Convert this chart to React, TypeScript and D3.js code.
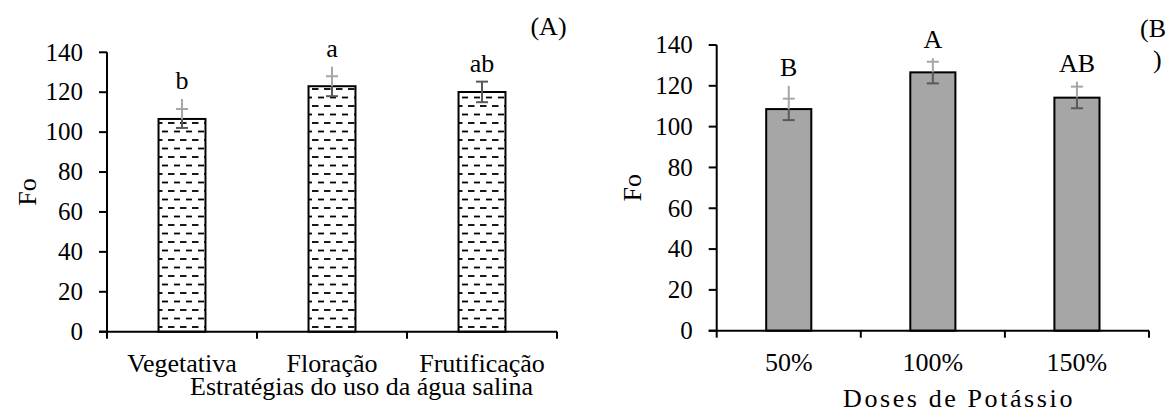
import React from "react";
import * as d3 from "d3";

const catsA = ["Vegetativa", "Floração", "Frutificação"];
const valsA = [106.6, 123.0, 120.1];
const capHiA = [111.6, 128.0, 125.3];
const capLoA = [102.1, 118.0, 115.0];
const lineTopA = [116.6, 132.8, 125.3];
const lettersA = ["b", "a", "ab"];

const catsB = ["50%", "100%", "150%"];
const valsB = [108.6, 126.6, 114.2];
const capHiB = [113.7, 131.8, 119.6];
const capLoB = [103.2, 121.2, 109.0];
const lineTopB = [120.0, 133.5, 122.0];
const lettersB = ["B", "A", "AB"];

const yTicks = [0, 20, 40, 60, 80, 100, 120, 140];

const FONT = "'Liberation Serif', 'Times New Roman', serif";
const FS = 26;
const FS_TICK = 25;
const LIGHT = "#a6a6a6";
const DARK = "#595959";

type PanelProps = {
  cats: string[];
  vals: number[];
  capHi: number[];
  capLo: number[];
  lineTop: number[];
  letters: string[];
  x0: number;
  x1: number;
  yTop: number;
  yBot: number;
  fill: string;
  yLabelX: number;
  xTitle: string;
  xTitleX: number;
  xTitleY: number;
  xTitleSpacing: number;
};

function Panel(p: PanelProps) {
  const x = d3.scaleBand<string>().domain(p.cats).range([p.x0, p.x1]).padding(0);
  const y = d3.scaleLinear().domain([0, 140]).range([p.yBot, p.yTop]);
  const bw = x.bandwidth() * 0.313;
  const capW = 12;
  const boundaries = [...p.cats.map((c) => x(c) as number), p.x1];
  return (
    <g fontFamily={FONT} fontSize={FS} fill="#000">
      {p.cats.map((c, i) => {
        const cx = (x(c) as number) + x.bandwidth() / 2;
        return (
          <rect
            key={"bar" + c}
            x={cx - bw / 2}
            y={y(p.vals[i])}
            width={bw}
            height={y(0) - y(p.vals[i])}
            fill={p.fill}
            stroke="#000"
            strokeWidth={2}
          />
        );
      })}
      {p.cats.map((c, i) => {
        const cx = (x(c) as number) + x.bandwidth() / 2;
        const ext = p.lineTop[i] > p.capHi[i] + 0.5;
        return (
          <g key={"err" + c} strokeWidth={2}>
            {ext && (
              <line x1={cx} x2={cx} y1={y(p.lineTop[i])} y2={y(p.vals[i])} stroke={LIGHT} />
            )}
            {!ext && (
              <line x1={cx} x2={cx} y1={y(p.capHi[i])} y2={y(p.vals[i])} stroke={DARK} />
            )}
            <line x1={cx} x2={cx} y1={y(p.vals[i])} y2={y(p.capLo[i])} stroke={DARK} />
            <line
              x1={cx - capW / 2}
              x2={cx + capW / 2}
              y1={y(p.capHi[i])}
              y2={y(p.capHi[i])}
              stroke={ext ? LIGHT : DARK}
            />
            <line
              x1={cx - capW / 2}
              x2={cx + capW / 2}
              y1={y(p.capLo[i])}
              y2={y(p.capLo[i])}
              stroke={DARK}
            />
          </g>
        );
      })}
      {p.cats.map((c, i) => {
        const cx = (x(c) as number) + x.bandwidth() / 2;
        return (
          <text key={"let" + c} x={cx} y={y(Math.max(p.lineTop[i], p.capHi[i])) - 10} textAnchor="middle">
            {p.letters[i]}
          </text>
        );
      })}
      <line x1={p.x0} x2={p.x0} y1={y(140)} y2={y(0)} stroke="#000" strokeWidth={2} />
      {yTicks.map((t) => (
        <g key={"yt" + t}>
          <line x1={p.x0 - 8} x2={p.x0} y1={y(t)} y2={y(t)} stroke="#000" strokeWidth={2} />
          <text x={p.x0 - 24} y={y(t)} dy="0.33em" textAnchor="end" fontSize={FS_TICK}>
            {t}
          </text>
        </g>
      ))}
      <line x1={p.x0 - 8} x2={p.x1} y1={y(0)} y2={y(0)} stroke="#000" strokeWidth={2} />
      {boundaries.map((b, i) => (
        <line key={"xt" + i} x1={b} x2={b} y1={y(0)} y2={y(0) + 7} stroke="#000" strokeWidth={2} />
      ))}
      {p.cats.map((c) => (
        <text key={"xl" + c} x={(x(c) as number) + x.bandwidth() / 2} y={y(0) + 40.5} textAnchor="middle">
          {c}
        </text>
      ))}
      <text x={p.xTitleX} y={p.xTitleY} textAnchor="middle" letterSpacing={p.xTitleSpacing}>
        {p.xTitle}
      </text>
      <text
        transform={`translate(${p.yLabelX},${(y(0) + y(140)) / 2}) rotate(-90)`}
        textAnchor="middle"
        dy="0.35em"
      >
        Fo
      </text>
    </g>
  );
}

export default function App() {
  return (
    <svg
      width={1169}
      height={412}
      style={{ position: "absolute", left: 0, top: 0, background: "#fff" }}
    >
      <defs>
        <pattern id="dashes" patternUnits="userSpaceOnUse" width={12} height={17}>
          <rect width={12} height={17} fill="#fff" />
          <line x1={0} x2={6.5} y1={4} y2={4} stroke="#000" strokeWidth={1.8} />
          <line x1={6} x2={12.5} y1={12.5} y2={12.5} stroke="#000" strokeWidth={1.8} />
        </pattern>
      </defs>
      <rect width={1169} height={412} fill="#fff" />
      <Panel
        cats={catsA}
        vals={valsA}
        capHi={capHiA}
        capLo={capLoA}
        lineTop={lineTopA}
        letters={lettersA}
        x0={107}
        x1={557}
        yTop={52.3}
        yBot={331.7}
        fill="url(#dashes)"
        yLabelX={27}
        xTitle="Estratégias do uso da água salina"
        xTitleX={361.5}
        xTitleY={395}
        xTitleSpacing={0}
      />
      <text x={548.5} y={35} textAnchor="middle" fontFamily={FONT} fontSize={FS}>
        (A)
      </text>
      <Panel
        cats={catsB}
        vals={valsB}
        capHi={capHiB}
        capLo={capLoB}
        lineTop={lineTopB}
        letters={lettersB}
        x0={716.7}
        x1={1149}
        yTop={45}
        yBot={330.7}
        fill="#a6a6a6"
        yLabelX={632}
        xTitle="Doses de Potássio"
        xTitleX={959}
        xTitleY={406.5}
        xTitleSpacing={2.6}
      />
      <text x={1140} y={37} fontFamily={FONT} fontSize={FS}>
        (B
      </text>
      <text x={1153} y={68} fontFamily={FONT} fontSize={FS}>
        )
      </text>
    </svg>
  );
}
